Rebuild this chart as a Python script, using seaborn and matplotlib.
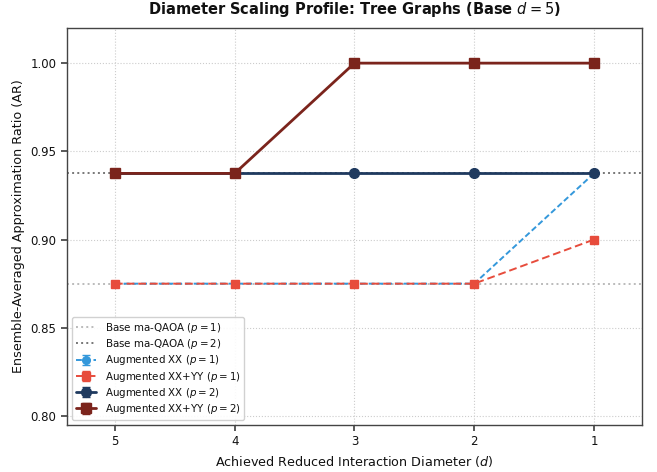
import numpy as np
import pandas as pd
import matplotlib
matplotlib.use("Agg")
import matplotlib.pyplot as plt
import seaborn as sns

diameters = [5, 4, 3, 2, 1]
base_p1 = 0.875
base_p2 = 0.9375
aug_xx_p1 = [0.875, 0.875, 0.875, 0.875, 0.9375]
aug_xxyy_p1 = [0.875, 0.875, 0.875, 0.875, 0.9]
aug_xx_p2 = [0.9375, 0.9375, 0.9375, 0.9375, 0.9375]
aug_xxyy_p2 = [0.9375, 0.9375, 1.0, 1.0, 1.0]
err = [0.0, 0.0, 0.0, 0.0, 0.0]

sns.set_theme(style="whitegrid")
plt.rcParams['font.family'] = ['DejaVu Sans']
plt.rcParams['text.color'] = '#111111'
plt.rcParams['axes.labelcolor'] = '#111111'
plt.rcParams['xtick.color'] = '#111111'
plt.rcParams['ytick.color'] = '#111111'

fig, ax = plt.subplots(figsize=(6.57, 4.72), dpi=100)

ax.axhline(base_p1, color="#bbbbbb", ls=":", lw=1.4, label=r"Base ma-QAOA ($p=1$)")
ax.axhline(base_p2, color="#777777", ls=":", lw=1.4, label=r"Base ma-QAOA ($p=2$)")

series = [
    (aug_xx_p1, r"Augmented XX ($p=1$)", "#3498db", "o", (0, (3, 1.5)), 1.4, 5.5),
    (aug_xxyy_p1, r"Augmented XX+YY ($p=1$)", "#e74c3c", "s", (0, (4, 2)), 1.4, 5.5),
    (aug_xx_p2, r"Augmented XX ($p=2$)", "#1f3a5f", "o", "-", 2.0, 7),
    (aug_xxyy_p2, r"Augmented XX+YY ($p=2$)", "#7b241c", "s", "-", 2.0, 7),
]
for vals, lab, col, mk, ls, lw, ms in series:
    df = pd.DataFrame({"d": diameters, "ar": vals})
    ax.errorbar(df["d"], df["ar"], yerr=err, color=col, marker=mk, ls=ls, lw=lw,
                ms=ms, capsize=3, label=lab)

ax.set_xlim(5.4, 0.6)
ax.set_ylim(0.795, 1.02)
ax.set_xticks(diameters)
ax.set_yticks([0.80, 0.85, 0.90, 0.95, 1.00])
ax.grid(True, ls=":", color="#cccccc", lw=0.8)
ax.set_facecolor("white")
for s in ax.spines.values():
    s.set_color("#444444")
    s.set_linewidth(1.0)
ax.tick_params(axis="both", labelsize=8.5, length=4, color="#444444", direction="out",
               left=True, bottom=True)

ax.set_xlabel(r"Achieved Reduced Interaction Diameter ($d$)", fontsize=9.2)
ax.set_ylabel("Ensemble-Averaged Approximation Ratio (AR)", fontsize=9.2)
ax.set_title(r"Diameter Scaling Profile: Tree Graphs (Base $d=5$)", fontsize=10.5,
             fontweight="bold", pad=10)

ax.legend(loc="lower left", fontsize=7.4, frameon=True, framealpha=0.9,
          labelspacing=0.22, borderpad=0.35)

fig.subplots_adjust(left=0.102, right=0.977, top=0.941, bottom=0.1)
fig.savefig("out.png", dpi=100)
